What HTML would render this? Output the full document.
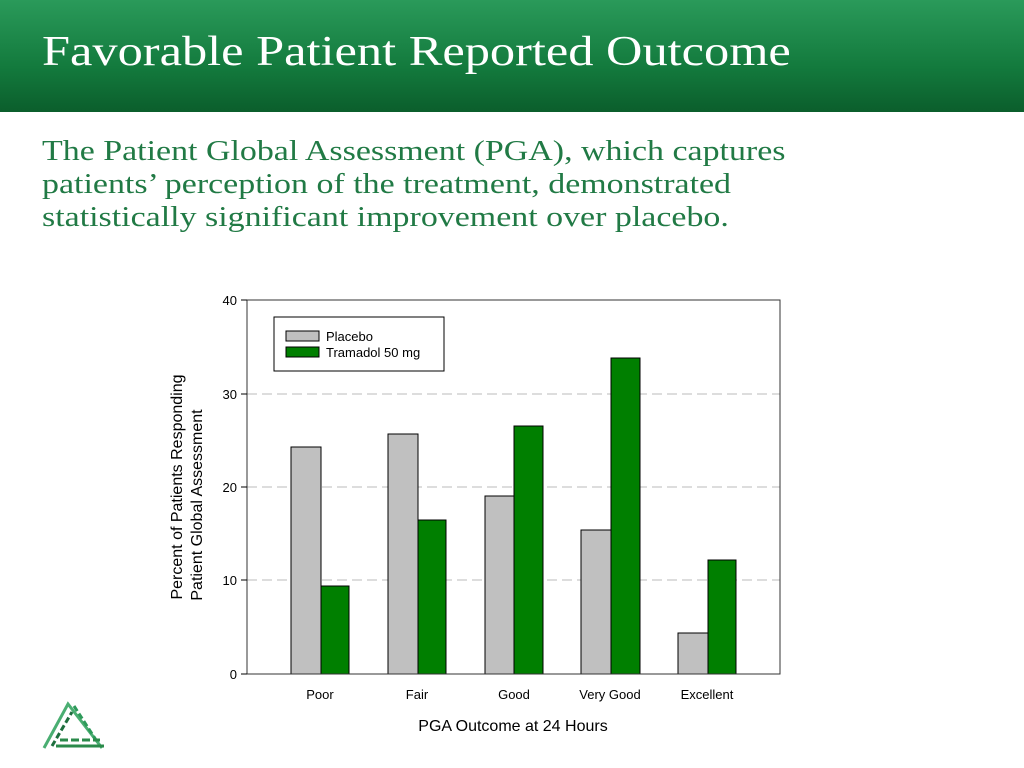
<!DOCTYPE html>
<html><head><style>
body{margin:0;width:1024px;height:768px;overflow:hidden;background:#fff;position:relative;font-family:"Liberation Sans",sans-serif}
.hdr{position:absolute;left:0;top:0;width:1024px;height:112px;background:linear-gradient(#2a9a5a,#137a3d 60%,#0b5e2c)}
.t{position:absolute;left:42px;top:28px;color:#fff;font:42px "Liberation Serif",serif;white-space:nowrap;transform:scaleX(1.2);transform-origin:0 0}
.s{position:absolute;left:42px;top:135px;color:#217a45;font:29px/33px "Liberation Serif",serif;white-space:nowrap;transform:scaleX(1.17);transform-origin:0 0}
</style></head><body>
<div class="hdr"></div>
<div class="t">Favorable Patient Reported Outcome</div>
<div class="s">The Patient Global Assessment (PGA), which captures<br>patients’ perception of the treatment, demonstrated<br>statistically significant improvement over placebo.</div>
<svg width="1024" height="768" style="position:absolute;left:0;top:0" font-family="Liberation Sans, sans-serif">
<g stroke="#bbb" stroke-dasharray="10,5" stroke-width="1">
<line x1="247" y1="394" x2="780" y2="394"/><line x1="247" y1="487" x2="780" y2="487"/><line x1="247" y1="580" x2="780" y2="580"/>
</g>
<g stroke="#000" stroke-width="1">
<rect x="291" y="447" width="30" height="227" fill="#c0c0c0"/><rect x="321" y="586" width="28" height="88" fill="#007f00"/>
<rect x="388" y="434" width="30" height="240" fill="#c0c0c0"/><rect x="418" y="520" width="28" height="154" fill="#007f00"/>
<rect x="485" y="496" width="29" height="178" fill="#c0c0c0"/><rect x="514" y="426" width="29" height="248" fill="#007f00"/>
<rect x="581" y="530" width="30" height="144" fill="#c0c0c0"/><rect x="611" y="358" width="29" height="316" fill="#007f00"/>
<rect x="678" y="633" width="30" height="41" fill="#c0c0c0"/><rect x="708" y="560" width="28" height="114" fill="#007f00"/>
<rect x="247" y="300" width="533" height="374" fill="none" stroke="#333"/>
<line x1="241" y1="300" x2="247" y2="300"/><line x1="241" y1="394" x2="247" y2="394"/><line x1="241" y1="487" x2="247" y2="487"/><line x1="241" y1="580" x2="247" y2="580"/><line x1="241" y1="674" x2="247" y2="674"/>
<rect x="274" y="317" width="170" height="54" fill="#fff"/>
<rect x="286" y="331" width="33" height="10" fill="#c0c0c0"/><rect x="286" y="347" width="33" height="10" fill="#007f00"/>
</g>
<g font-size="13" fill="#000">
<text x="326" y="341">Placebo</text><text x="326" y="357">Tramadol 50 mg</text>
<g text-anchor="end"><text x="237" y="305">40</text><text x="237" y="399">30</text><text x="237" y="492">20</text><text x="237" y="585">10</text><text x="237" y="679">0</text></g>
<g text-anchor="middle"><text x="320" y="699">Poor</text><text x="417" y="699">Fair</text><text x="514" y="699">Good</text><text x="610" y="699">Very Good</text><text x="707" y="699">Excellent</text></g>
</g>
<text x="513" y="731" font-size="16" text-anchor="middle">PGA Outcome at 24 Hours</text>
<g font-size="16" text-anchor="middle"><text transform="translate(182,487) rotate(-90)">Percent of Patients Responding</text><text transform="translate(202,505) rotate(-90)">Patient Global Assessment</text></g>
<g stroke-width="3" fill="none">
<path d="M44 748 L68 704 L102 748" stroke="#4aae72"/>
<path d="M52 746 L72 712" stroke="#1e6e3e" stroke-dasharray="6,3"/>
<path d="M74 706 L96 740" stroke="#2e9a5a" stroke-dasharray="6,3"/>
<line x1="60" y1="740" x2="100" y2="740" stroke="#2a8a4a" stroke-dasharray="8,3"/>
<line x1="56" y1="746" x2="104" y2="746" stroke="#2a8a4a"/>
</g>
</svg>
</body></html>
